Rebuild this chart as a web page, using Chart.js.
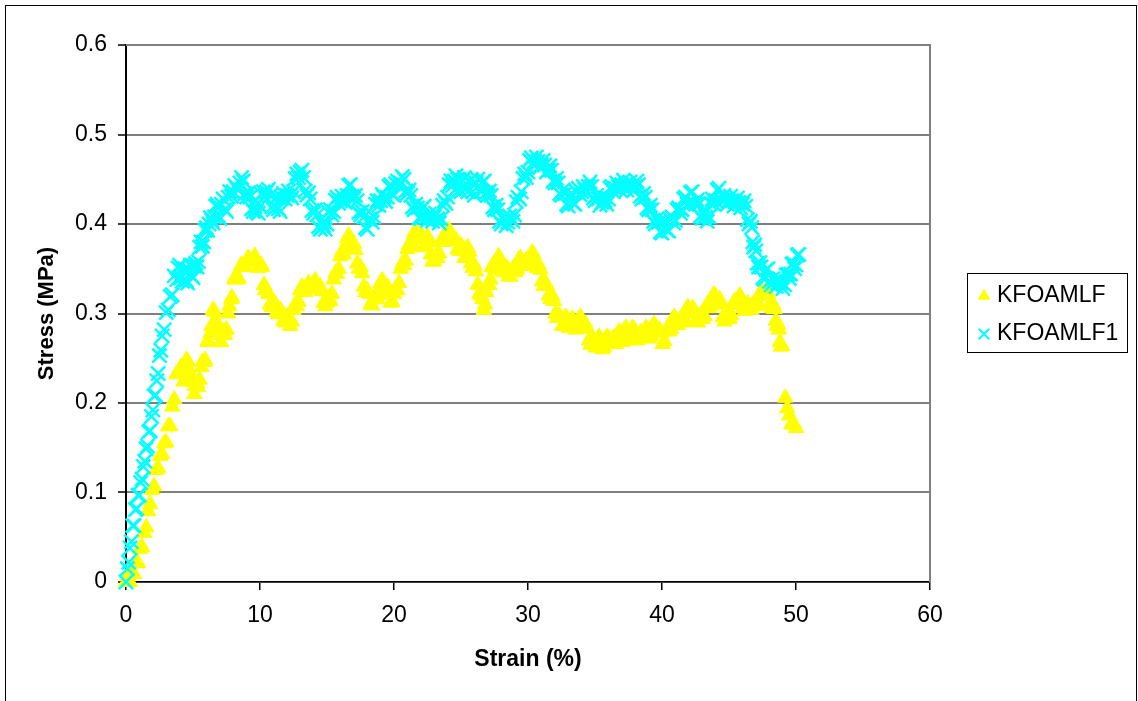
<!DOCTYPE html>
<html>
<head>
<meta charset="utf-8">
<title>Stress vs Strain</title>
<script src="https://cdn.jsdelivr.net/npm/chart.js@4/dist/chart.umd.min.js"></script>
<style>
  html, body { margin: 0; padding: 0; background: #fff; }
  #wrap { position: relative; width: 1138px; height: 701px; }
</style>
</head>
<body>
<div id="wrap"><canvas id="stressChart" width="1138" height="701"></canvas></div>
<script>
"use strict";

var seriesNames = ["KFOAMLF", "KFOAMLF1"];
var xTicks = [0, 10, 20, 30, 40, 50, 60];
var yTicks = [0, 0.1, 0.2, 0.3, 0.4, 0.5, 0.6];

// KFOAMLF, main readings
var strainA = [
  0.00, 0.15, 0.30, 0.45, 0.60, 0.75, 0.90, 1.05, 1.20, 1.35, 1.50, 1.65, 1.80, 1.95, 2.10, 2.25, 2.40, 2.55, 2.70, 2.85,
  3.00, 3.15, 3.30, 3.45, 3.60, 3.75, 3.90, 4.10, 4.30, 4.50, 4.70, 4.90, 5.10, 5.30, 5.50, 5.70, 5.90, 6.10, 6.30, 6.50,
  6.70, 6.90, 7.10, 7.30, 7.50, 7.70, 7.90, 8.10, 8.35, 8.60, 8.85, 9.10, 9.35, 9.60, 9.85, 10.10, 10.30, 10.50, 10.75, 11.00,
  11.25, 11.50, 11.75, 12.00, 12.25, 12.50, 12.75, 13.00, 13.25, 13.50, 13.75, 14.00, 14.25, 14.50, 14.75, 15.00, 15.25, 15.50, 15.75, 16.00,
  16.25, 16.50, 16.75, 17.00, 17.25, 17.50, 17.75, 18.00, 18.25, 18.50, 18.75, 19.00, 19.25, 19.50, 19.75, 20.00, 20.25, 20.50, 20.75, 21.00,
  21.25, 21.50, 21.75, 22.00, 22.25, 22.50, 22.75, 23.00, 23.25, 23.50, 23.75, 24.00, 24.25, 24.50, 24.75, 25.00, 25.25, 25.50, 25.75, 26.00,
  26.25, 26.50, 26.70, 26.90, 27.10, 27.30, 27.55, 27.80, 28.05, 28.30, 28.55, 28.80, 29.05, 29.30, 29.55, 29.80, 30.05, 30.30, 30.55, 30.80,
  31.05, 31.30, 31.55, 31.80, 32.05, 32.30, 32.55, 32.80, 33.05, 33.30, 33.55, 33.80, 34.05, 34.30, 34.55, 34.80, 35.05, 35.30, 35.55, 35.80,
  36.05, 36.30, 36.55, 36.80, 37.05, 37.30, 37.55, 37.80, 38.05, 38.30, 38.55, 38.80, 39.05, 39.30, 39.55, 39.80, 40.05, 40.30, 40.55, 40.80,
  41.05, 41.30, 41.55, 41.80, 42.05, 42.30, 42.55, 42.80, 43.05, 43.30, 43.55, 43.80, 44.05, 44.30, 44.55, 44.80, 45.05, 45.30, 45.55, 45.80,
  46.05, 46.30, 46.55, 46.80, 47.05, 47.30, 47.55, 47.80, 48.05, 48.30, 48.50, 48.65, 48.80, 48.95, 49.20, 49.35, 49.50, 49.65, 49.80, 50.00
];
var stressA = [
  0.000, 0.007, 0.000, 0.011, 0.009, 0.023, 0.021, 0.037, 0.039, 0.055, 0.061, 0.079, 0.087, 0.103, 0.107, 0.125, 0.127, 0.141, 0.143, 0.155,
  0.156, 0.174, 0.174, 0.196, 0.204, 0.232, 0.234, 0.240, 0.224, 0.248, 0.236, 0.230, 0.210, 0.222, 0.226, 0.246, 0.248, 0.268, 0.278, 0.304,
  0.292, 0.284, 0.268, 0.280, 0.282, 0.308, 0.318, 0.338, 0.338, 0.354, 0.352, 0.362, 0.358, 0.364, 0.352, 0.354, 0.332, 0.326, 0.310, 0.312,
  0.302, 0.304, 0.292, 0.296, 0.286, 0.304, 0.308, 0.326, 0.326, 0.330, 0.330, 0.334, 0.332, 0.330, 0.312, 0.312, 0.314, 0.338, 0.344, 0.364,
  0.366, 0.384, 0.382, 0.378, 0.356, 0.352, 0.330, 0.326, 0.310, 0.316, 0.316, 0.334, 0.332, 0.330, 0.312, 0.322, 0.326, 0.350, 0.354, 0.372,
  0.374, 0.390, 0.386, 0.388, 0.374, 0.386, 0.366, 0.358, 0.362, 0.380, 0.380, 0.392, 0.386, 0.384, 0.372, 0.376, 0.362, 0.374, 0.356, 0.354,
  0.332, 0.320, 0.304, 0.324, 0.332, 0.352, 0.350, 0.364, 0.348, 0.352, 0.342, 0.348, 0.346, 0.360, 0.356, 0.358, 0.354, 0.368, 0.356, 0.354,
  0.336, 0.334, 0.320, 0.320, 0.300, 0.298, 0.286, 0.296, 0.284, 0.294, 0.282, 0.294, 0.290, 0.288, 0.270, 0.268, 0.262, 0.274, 0.260, 0.272,
  0.268, 0.272, 0.266, 0.280, 0.268, 0.284, 0.270, 0.284, 0.272, 0.276, 0.274, 0.284, 0.272, 0.286, 0.282, 0.282, 0.266, 0.280, 0.280, 0.294,
  0.290, 0.292, 0.290, 0.304, 0.302, 0.306, 0.292, 0.296, 0.294, 0.308, 0.306, 0.320, 0.314, 0.316, 0.296, 0.294, 0.294, 0.310, 0.310, 0.320,
  0.306, 0.308, 0.306, 0.310, 0.308, 0.322, 0.320, 0.326, 0.310, 0.310, 0.292, 0.288, 0.268, 0.264, 0.206, 0.194, 0.186, 0.176, 0.178, 0.172
];

// KFOAMLF, readings between the main ones
var strainA2 = [
  4.125, 4.375, 4.625, 4.875, 5.125, 5.375, 5.625, 5.875, 6.125, 6.375, 6.625, 6.875, 7.125, 7.375, 7.625, 7.875, 8.125, 8.375, 8.625, 8.875,
  9.125, 9.375, 9.625, 9.875, 10.125, 10.375, 10.625, 10.875, 11.125, 11.375, 11.625, 11.875, 12.125, 12.375, 12.625, 12.875, 13.125, 13.375, 13.625, 13.875,
  14.125, 14.375, 14.625, 14.875, 15.125, 15.375, 15.625, 15.875, 16.125, 16.375, 16.625, 16.875, 17.125, 17.375, 17.625, 17.875, 18.125, 18.375, 18.625, 18.875,
  19.125, 19.375, 19.625, 19.875, 20.125, 20.375, 20.625, 20.875, 21.125, 21.375, 21.625, 21.875, 22.125, 22.375, 22.625, 22.875, 23.125, 23.375, 23.625, 23.875,
  24.125, 24.375, 24.625, 24.875, 25.125, 25.375, 25.625, 25.875, 26.125, 26.375, 26.6, 26.8, 27.0, 27.2, 27.425, 27.675, 27.925, 28.175, 28.425, 28.675,
  28.925, 29.175, 29.425, 29.675, 29.925, 30.175, 30.425, 30.675, 30.925, 31.175, 31.425, 31.675, 31.925, 32.175, 32.425, 32.675, 32.925, 33.175, 33.425, 33.675,
  33.925, 34.175, 34.425, 34.675, 34.925, 35.175, 35.425, 35.675, 35.925, 36.175, 36.425, 36.675, 36.925, 37.175, 37.425, 37.675, 37.925, 38.175, 38.425, 38.675,
  38.925, 39.175, 39.425, 39.675, 39.925, 40.175, 40.425, 40.675, 40.925, 41.175, 41.425, 41.675, 41.925, 42.175, 42.425, 42.675, 42.925, 43.175, 43.425, 43.675,
  43.925, 44.175, 44.425, 44.675, 44.925, 45.175, 45.425, 45.675, 45.925, 46.175, 46.425, 46.675, 46.925, 47.175, 47.425, 47.675, 47.925, 48.175, 48.4, 48.575,
  48.725, 48.875
];
var stressA2 = [
  0.240, 0.234, 0.246, 0.224, 0.219, 0.218, 0.240, 0.246, 0.270, 0.286, 0.302, 0.278, 0.276, 0.276, 0.300, 0.316, 0.340, 0.340, 0.354, 0.352,
  0.362, 0.358, 0.364, 0.351, 0.352, 0.326, 0.322, 0.307, 0.311, 0.299, 0.302, 0.290, 0.295, 0.291, 0.310, 0.313, 0.330, 0.324, 0.334, 0.328,
  0.337, 0.327, 0.325, 0.308, 0.317, 0.322, 0.345, 0.350, 0.369, 0.371, 0.387, 0.376, 0.371, 0.350, 0.345, 0.324, 0.322, 0.309, 0.320, 0.321,
  0.337, 0.327, 0.325, 0.313, 0.328, 0.334, 0.356, 0.359, 0.377, 0.378, 0.392, 0.383, 0.385, 0.376, 0.380, 0.358, 0.364, 0.367, 0.384, 0.382,
  0.393, 0.381, 0.382, 0.370, 0.373, 0.364, 0.369, 0.351, 0.347, 0.322, 0.316, 0.310, 0.332, 0.338, 0.355, 0.353, 0.360, 0.346, 0.351, 0.341,
  0.351, 0.349, 0.362, 0.353, 0.360, 0.357, 0.366, 0.351, 0.349, 0.331, 0.331, 0.316, 0.314, 0.295, 0.296, 0.287, 0.294, 0.285, 0.292, 0.284,
  0.296, 0.285, 0.283, 0.265, 0.269, 0.264, 0.271, 0.262, 0.274, 0.266, 0.273, 0.269, 0.278, 0.272, 0.281, 0.273, 0.282, 0.270, 0.279, 0.275,
  0.282, 0.275, 0.288, 0.278, 0.278, 0.269, 0.284, 0.283, 0.296, 0.287, 0.295, 0.293, 0.307, 0.300, 0.303, 0.290, 0.299, 0.297, 0.311, 0.309,
  0.321, 0.311, 0.310, 0.291, 0.298, 0.298, 0.314, 0.311, 0.317, 0.303, 0.311, 0.304, 0.313, 0.311, 0.325, 0.319, 0.322, 0.306, 0.305, 0.286,
  0.282, 0.263
];

// KFOAMLF1, main readings
var strainB = [
  0.00, 0.10, 0.20, 0.30, 0.40, 0.50, 0.60, 0.70, 0.80, 0.90, 1.00, 1.10, 1.20, 1.30, 1.40, 1.50, 1.60, 1.70, 1.80, 1.90,
  2.00, 2.10, 2.20, 2.30, 2.40, 2.50, 2.60, 2.70, 2.85, 3.00, 3.15, 3.30, 3.45, 3.60, 3.80, 4.00, 4.20, 4.40, 4.60, 4.80,
  5.00, 5.20, 5.40, 5.60, 5.80, 6.00, 6.20, 6.40, 6.60, 6.80, 7.00, 7.25, 7.50, 7.75, 8.00, 8.25, 8.50, 8.75, 9.00, 9.25,
  9.50, 9.75, 10.00, 10.25, 10.50, 10.75, 11.00, 11.25, 11.50, 11.75, 12.00, 12.25, 12.50, 12.75, 13.00, 13.25, 13.50, 13.75, 14.00, 14.25,
  14.50, 14.75, 15.00, 15.25, 15.50, 15.75, 16.00, 16.25, 16.50, 16.75, 17.00, 17.25, 17.50, 17.75, 18.00, 18.25, 18.50, 18.75, 19.00, 19.25,
  19.50, 19.75, 20.00, 20.25, 20.50, 20.75, 21.00, 21.25, 21.50, 21.75, 22.00, 22.25, 22.50, 22.75, 23.00, 23.25, 23.50, 23.75, 24.00, 24.25,
  24.50, 24.75, 25.00, 25.25, 25.50, 25.75, 26.00, 26.25, 26.50, 26.75, 27.00, 27.25, 27.50, 27.75, 28.00, 28.25, 28.50, 28.75, 29.00, 29.25,
  29.50, 29.75, 30.00, 30.25, 30.50, 30.75, 31.00, 31.25, 31.50, 31.75, 32.00, 32.25, 32.50, 32.75, 33.00, 33.25, 33.50, 33.75, 34.00, 34.25,
  34.50, 34.75, 35.00, 35.25, 35.50, 35.75, 36.00, 36.25, 36.50, 36.75, 37.00, 37.25, 37.50, 37.75, 38.00, 38.25, 38.50, 38.75, 39.00, 39.25,
  39.50, 39.75, 40.00, 40.25, 40.50, 40.75, 41.00, 41.25, 41.50, 41.75, 42.00, 42.25, 42.50, 42.75, 43.00, 43.25, 43.50, 43.75, 44.00, 44.25,
  44.50, 44.75, 45.00, 45.25, 45.50, 45.75, 46.00, 46.25, 46.50, 46.70, 46.85, 47.00, 47.20, 47.40, 47.65, 47.90, 48.15, 48.40, 48.65, 48.90,
  49.15, 49.40, 49.60, 49.80, 50.00, 50.20
];
var stressB = [
  0.000, 0.015, 0.022, 0.038, 0.045, 0.063, 0.063, 0.081, 0.082, 0.097, 0.097, 0.111, 0.115, 0.129, 0.135, 0.149, 0.152, 0.168, 0.169, 0.185,
  0.192, 0.208, 0.209, 0.225, 0.233, 0.253, 0.259, 0.275, 0.282, 0.301, 0.304, 0.319, 0.321, 0.342, 0.338, 0.354, 0.336, 0.350, 0.334, 0.354,
  0.340, 0.356, 0.358, 0.380, 0.380, 0.396, 0.400, 0.404, 0.408, 0.422, 0.406, 0.428, 0.414, 0.436, 0.436, 0.440, 0.446, 0.448, 0.430, 0.430,
  0.414, 0.414, 0.420, 0.436, 0.436, 0.432, 0.416, 0.430, 0.414, 0.434, 0.432, 0.432, 0.436, 0.456, 0.458, 0.452, 0.432, 0.428, 0.412, 0.410,
  0.394, 0.398, 0.400, 0.416, 0.414, 0.430, 0.426, 0.426, 0.432, 0.444, 0.428, 0.426, 0.410, 0.408, 0.394, 0.406, 0.408, 0.426, 0.426, 0.430,
  0.430, 0.444, 0.432, 0.448, 0.446, 0.450, 0.434, 0.432, 0.416, 0.418, 0.406, 0.420, 0.404, 0.408, 0.408, 0.406, 0.406, 0.426, 0.430, 0.448,
  0.448, 0.450, 0.436, 0.452, 0.436, 0.450, 0.432, 0.450, 0.436, 0.448, 0.432, 0.432, 0.416, 0.416, 0.400, 0.404, 0.402, 0.406, 0.410, 0.430,
  0.436, 0.456, 0.458, 0.474, 0.470, 0.470, 0.466, 0.466, 0.460, 0.460, 0.446, 0.446, 0.432, 0.434, 0.420, 0.434, 0.422, 0.440, 0.436, 0.438,
  0.442, 0.442, 0.426, 0.428, 0.424, 0.426, 0.428, 0.442, 0.440, 0.442, 0.444, 0.444, 0.442, 0.442, 0.442, 0.444, 0.428, 0.430, 0.416, 0.416,
  0.400, 0.402, 0.390, 0.404, 0.392, 0.408, 0.404, 0.418, 0.416, 0.430, 0.424, 0.436, 0.422, 0.422, 0.406, 0.408, 0.408, 0.428, 0.426, 0.440,
  0.426, 0.428, 0.426, 0.426, 0.424, 0.424, 0.422, 0.420, 0.400, 0.396, 0.374, 0.370, 0.352, 0.352, 0.338, 0.350, 0.332, 0.336, 0.334, 0.334,
  0.332, 0.344, 0.344, 0.356, 0.354, 0.366
];

// KFOAMLF1, readings between the main ones
var strainB2 = [
  3.9, 4.1, 4.3, 4.5, 4.7, 4.9, 5.1, 5.3, 5.5, 5.7, 5.9, 6.1, 6.3, 6.5, 6.7, 6.9, 7.125, 7.375, 7.625, 7.875,
  8.125, 8.375, 8.625, 8.875, 9.125, 9.375, 9.625, 9.875, 10.125, 10.375, 10.625, 10.875, 11.125, 11.375, 11.625, 11.875, 12.125, 12.375, 12.625, 12.875,
  13.125, 13.375, 13.625, 13.875, 14.125, 14.375, 14.625, 14.875, 15.125, 15.375, 15.625, 15.875, 16.125, 16.375, 16.625, 16.875, 17.125, 17.375, 17.625, 17.875,
  18.125, 18.375, 18.625, 18.875, 19.125, 19.375, 19.625, 19.875, 20.125, 20.375, 20.625, 20.875, 21.125, 21.375, 21.625, 21.875, 22.125, 22.375, 22.625, 22.875,
  23.125, 23.375, 23.625, 23.875, 24.125, 24.375, 24.625, 24.875, 25.125, 25.375, 25.625, 25.875, 26.125, 26.375, 26.625, 26.875, 27.125, 27.375, 27.625, 27.875,
  28.125, 28.375, 28.625, 28.875, 29.125, 29.375, 29.625, 29.875, 30.125, 30.375, 30.625, 30.875, 31.125, 31.375, 31.625, 31.875, 32.125, 32.375, 32.625, 32.875,
  33.125, 33.375, 33.625, 33.875, 34.125, 34.375, 34.625, 34.875, 35.125, 35.375, 35.625, 35.875, 36.125, 36.375, 36.625, 36.875, 37.125, 37.375, 37.625, 37.875,
  38.125, 38.375, 38.625, 38.875, 39.125, 39.375, 39.625, 39.875, 40.125, 40.375, 40.625, 40.875, 41.125, 41.375, 41.625, 41.875, 42.125, 42.375, 42.625, 42.875,
  43.125, 43.375, 43.625, 43.875, 44.125, 44.375, 44.625, 44.875, 45.125, 45.375, 45.625, 45.875, 46.125, 46.375, 46.6, 46.775, 46.925, 47.1, 47.3, 47.525,
  47.775, 48.025, 48.275, 48.525, 48.775, 49.025, 49.275, 49.5, 49.7, 49.9, 50.1
];
var stressB2 = [
  0.351, 0.340, 0.348, 0.337, 0.349, 0.342, 0.353, 0.352, 0.374, 0.375, 0.393, 0.393, 0.407, 0.401, 0.420, 0.409, 0.422, 0.416, 0.430, 0.431,
  0.443, 0.438, 0.452, 0.434, 0.435, 0.417, 0.419, 0.412, 0.433, 0.431, 0.439, 0.419, 0.428, 0.417, 0.429, 0.428, 0.437, 0.429, 0.451, 0.452,
  0.460, 0.437, 0.435, 0.415, 0.416, 0.397, 0.401, 0.394, 0.413, 0.410, 0.427, 0.423, 0.431, 0.424, 0.443, 0.431, 0.432, 0.413, 0.414, 0.396,
  0.405, 0.402, 0.422, 0.421, 0.433, 0.425, 0.442, 0.433, 0.445, 0.442, 0.453, 0.437, 0.438, 0.419, 0.422, 0.407, 0.418, 0.407, 0.411, 0.403,
  0.412, 0.401, 0.421, 0.423, 0.444, 0.443, 0.454, 0.438, 0.449, 0.439, 0.448, 0.436, 0.446, 0.438, 0.447, 0.435, 0.437, 0.419, 0.421, 0.403,
  0.407, 0.398, 0.409, 0.403, 0.425, 0.428, 0.451, 0.452, 0.471, 0.467, 0.475, 0.463, 0.471, 0.458, 0.465, 0.448, 0.451, 0.434, 0.438, 0.422,
  0.432, 0.423, 0.436, 0.433, 0.442, 0.435, 0.447, 0.429, 0.432, 0.421, 0.430, 0.422, 0.440, 0.436, 0.446, 0.438, 0.449, 0.438, 0.447, 0.437,
  0.448, 0.431, 0.434, 0.418, 0.421, 0.403, 0.406, 0.391, 0.402, 0.393, 0.405, 0.401, 0.416, 0.412, 0.428, 0.422, 0.435, 0.424, 0.427, 0.409,
  0.412, 0.403, 0.423, 0.422, 0.438, 0.428, 0.432, 0.422, 0.431, 0.420, 0.429, 0.418, 0.426, 0.405, 0.403, 0.380, 0.377, 0.356, 0.357, 0.340,
  0.349, 0.336, 0.339, 0.330, 0.339, 0.328, 0.343, 0.339, 0.355, 0.350, 0.365
];

var FONT = "'Liberation Sans', Arial, Helvetica, sans-serif";

function points(xs, ys) {
  return xs.map(function (x, i) { return { x: x, y: ys[i] }; });
}

// Frame around the whole chart, plot border and the boxed legend on the right
var chartFrame = {
  id: "chartFrame",
  beforeDatasetsDraw: function (chart) {
    var ctx = chart.ctx, a = chart.chartArea;
    ctx.save();
    ctx.strokeStyle = "#808080";
    ctx.lineWidth = 2;
    ctx.beginPath();
    ctx.moveTo(a.left, a.top);
    ctx.lineTo(a.right, a.top);
    ctx.lineTo(a.right, a.bottom);
    ctx.stroke();
    ctx.restore();
  },
  afterDraw: function (chart) {
    var ctx = chart.ctx;
    ctx.save();
    ctx.strokeStyle = "#000";
    ctx.lineWidth = 1;
    ctx.strokeRect(5.5, 5.5, 1131, 720);

    ctx.strokeRect(967.5, 273.5, 160, 79);
    ctx.font = "23px " + FONT;
    ctx.textBaseline = "middle";
    ctx.textAlign = "left";
    chart.data.datasets.forEach(function (ds, i) {
      var y = 295 + i * 38;
      ctx.fillStyle = ds.backgroundColor;
      ctx.strokeStyle = ds.borderColor;
      ctx.lineWidth = ds.legendBorder;
      Chart.helpers.drawPoint(ctx, {
        pointStyle: ds.pointStyle, radius: ds.legendRadius, rotation: 0, borderWidth: ds.legendBorder
      }, 984, y + 1);
      ctx.fillStyle = "#000";
      ctx.fillText(ds.label, 997, y + 1);
    });
    ctx.restore();
  }
};

new Chart(document.getElementById("stressChart"), {
  type: "scatter",
  data: {
    datasets: [
      {
        label: seriesNames[0],
        data: points(strainA, stressA).concat(points(strainA2, stressA2)),
        pointStyle: "triangle",
        pointRadius: 9,
        legendRadius: 6.5,
        legendBorder: 1,
        backgroundColor: "#ffff00",
        borderColor: "#ffff00",
        borderWidth: 1,
        clip: false,
        order: 2
      },
      {
        label: seriesNames[1],
        data: points(strainB, stressB).concat(points(strainB2, stressB2)),
        pointStyle: "crossRot",
        pointRadius: 10,
        legendRadius: 7.5,
        legendBorder: 2,
        backgroundColor: "#00ffff",
        borderColor: "#00ffff",
        borderWidth: 2.5,
        clip: false,
        order: 1
      }
    ]
  },
  options: {
    responsive: false,
    animation: false,
    devicePixelRatio: 1,
    layout: { padding: { left: 20, top: 45, right: 208, bottom: 19 } },
    plugins: {
      legend: { display: false },
      tooltip: { enabled: false }
    },
    scales: {
      x: {
        type: "linear",
        min: 0,
        max: 60,
        afterBuildTicks: function (scale) {
          scale.ticks = xTicks.map(function (v) { return { value: v }; });
        },
        afterFit: function (scale) { scale.height = 100; },
        ticks: {
          color: "#000",
          font: { family: FONT, size: 23 },
          padding: 12,
          maxRotation: 0,
          callback: function (v) { return String(v); }
        },
        grid: { drawOnChartArea: false, drawTicks: true, tickLength: 8, tickColor: "#000", lineWidth: 1.5 },
        border: { display: true, color: "#000", width: 1.5 },
        title: {
          display: true,
          text: "Strain (%)",
          color: "#000",
          font: { family: FONT, size: 23, weight: "bold" },
          padding: { top: 4, bottom: 9 }
        }
      },
      y: {
        type: "linear",
        min: 0,
        max: 0.6,
        afterBuildTicks: function (scale) {
          scale.ticks = yTicks.map(function (v) { return { value: v }; });
        },
        afterFit: function (scale) { scale.width = 106; },
        ticks: {
          color: "#000",
          font: { family: FONT, size: 23 },
          padding: 11,
          callback: function (v) { return String(Math.round(v * 10) / 10); }
        },
        grid: { color: "#7f7f7f", lineWidth: 2, drawTicks: true, tickLength: 8, tickColor: "#000", tickWidth: 1.5 },
        border: { display: true, color: "#000", width: 2 },
        title: {
          display: true,
          text: "Stress (MPa)",
          color: "#000",
          font: { family: FONT, size: 22, weight: "bold" },
          padding: { top: 14, bottom: 4 }
        }
      }
    }
  },
  plugins: [chartFrame]
});
</script>
</body>
</html>
